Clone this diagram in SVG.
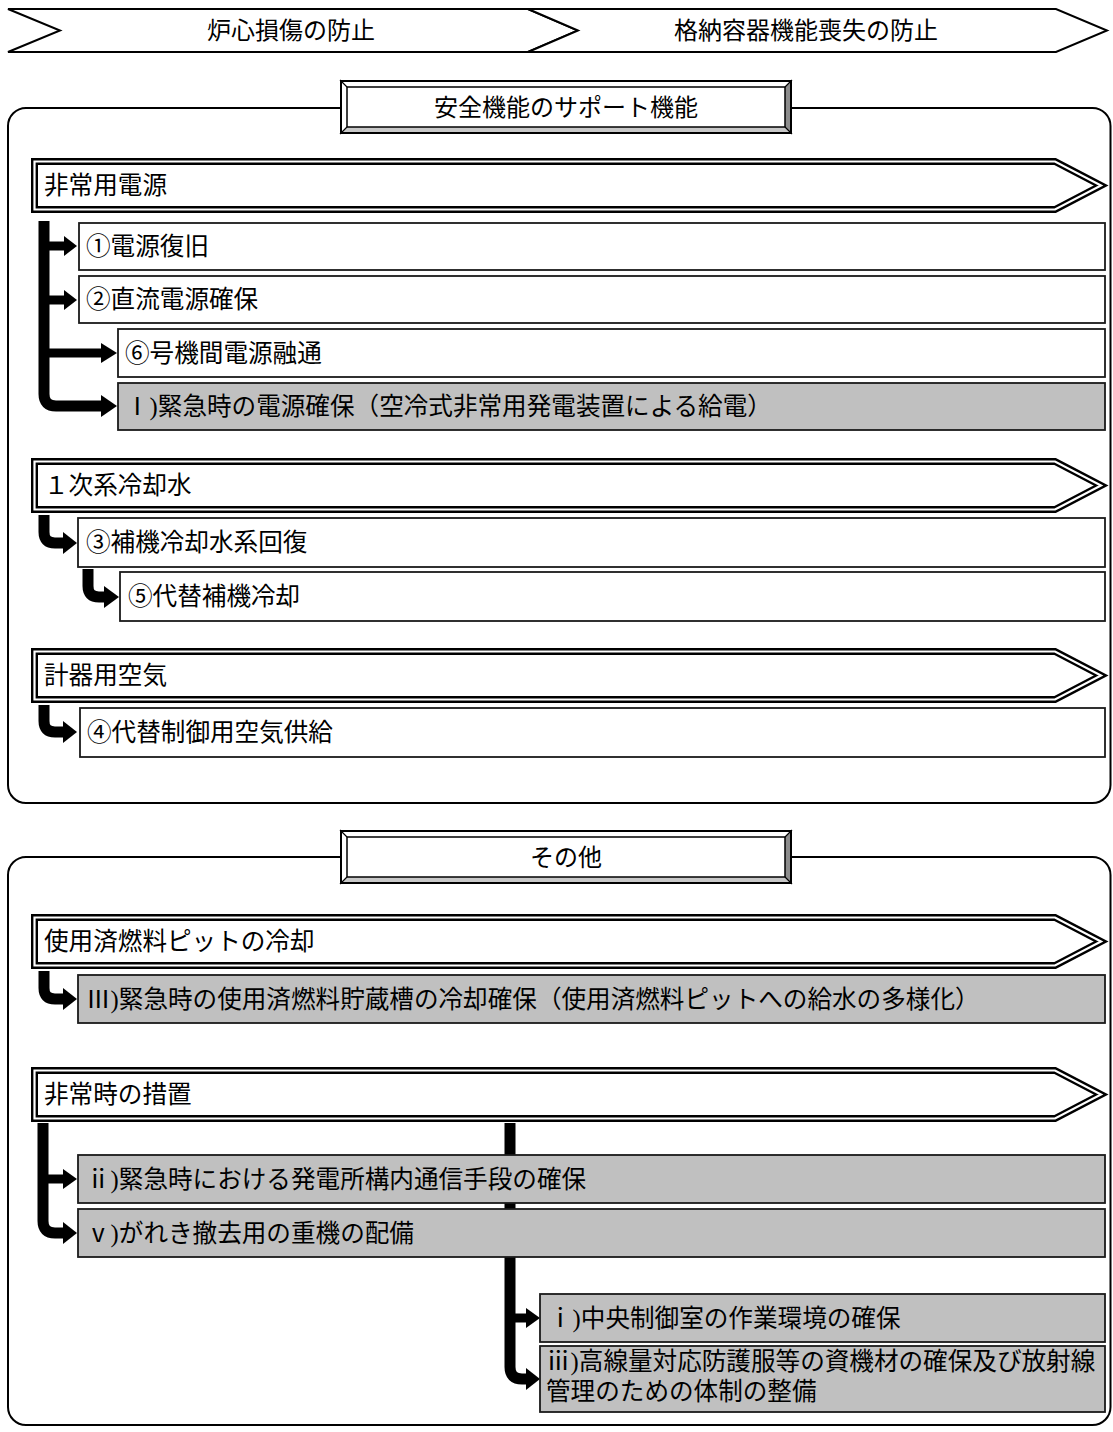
<svg xmlns="http://www.w3.org/2000/svg" xmlns:xlink="http://www.w3.org/1999/xlink" width="1113" height="1432" viewBox="0 0 1113 1432">
<style>
.t{font-family:"Liberation Serif","Noto Sans CJK JP",serif;font-size:24.6px;fill:#000}
.hd{font-family:"Liberation Serif","Noto Sans CJK JP",serif;font-size:24px;fill:#000;text-anchor:middle}
.box{fill:#fff;stroke:#1a1a1a;stroke-width:1.8}
.gbox{fill:#c0c0c0;stroke:#1a1a1a;stroke-width:1.8}
.frame{fill:none;stroke:#000;stroke-width:2}
.chev{fill:#fff;stroke:#000;stroke-width:2}
.ln{fill:none;stroke:#000;stroke-width:11}
.bl{fill:none;stroke:#000;stroke-width:9}
.hdz{fill:#000}
</style>
<defs>
<g id="bevel">
<rect x="0" y="0" width="452" height="54" fill="#fff"/>
<polygon points="452,0 452,54 445,47 445,7" fill="#8c8c8c"/>
<polygon points="0,54 452,54 445,47 7,47" fill="#c8c8c8"/>
<rect x="7" y="7" width="438" height="40" fill="#fff" stroke="#000" stroke-width="1.5"/>
<path d="M0,0 L7,7 M452,0 L445,7 M0,54 L7,47 M452,54 L445,47" stroke="#000" stroke-width="1.2"/>
<rect x="1" y="1" width="450" height="52" fill="none" stroke="#000" stroke-width="2"/>
</g>
<g id="bar">
<polygon points="34.5,3.5 1055,3.5 1101,27.5 1055,51.5 34.5,51.5" fill="#fff" stroke="#000" stroke-width="7"/>
<polygon points="34.5,3.5 1055,3.5 1101,27.5 1055,51.5 34.5,51.5" fill="none" stroke="#fff" stroke-width="2.2"/>
</g>
</defs>

<g id="header">
<g id="h1">
<polygon class="chev" points="8,9 528,9 578,30.5 528,52 8,52 60,30.5"/>
<text class="hd" x="291" y="39">炉心損傷の防止</text>
</g>
<g id="h2">
<polygon class="chev" points="528,9 1056,9 1107,30.5 1056,52 528,52 578,30.5"/>
<text class="hd" x="806" y="39">格納容器機能喪失の防止</text>
</g>
</g>

<g id="frames">
<rect class="frame" x="8" y="108" width="1102.5" height="695" rx="18" ry="18"/>
<rect class="frame" x="8" y="857" width="1102.5" height="568" rx="18" ry="18"/>
</g>

<g id="connectors">
<path class="ln" d="M44,221 V394 Q44,406 56,406 H103"/>
<polygon class="hdz" points="101,395 117,406 101,417"/>
<path class="bl" d="M44,246 H66"/>
<polygon class="hdz" points="64,236 77,246 64,256"/>
<path class="bl" d="M44,300 H66"/>
<polygon class="hdz" points="64,290 77,300 64,310"/>
<path class="bl" d="M44,353 H103"/>
<polygon class="hdz" points="101,343 117,353 101,363"/>
<path class="ln" d="M44,515 V532 Q44,543 55,543 H65"/>
<polygon class="hdz" points="63,532 77,543 63,554"/>
<path class="ln" d="M88,569 V586 Q88,597 99,597 H106"/>
<polygon class="hdz" points="104,586 119,597 104,608"/>
<path class="ln" d="M44,705 V721 Q44,732 55,732 H65"/>
<polygon class="hdz" points="63,721 77,732 63,743"/>
<path class="ln" d="M44,971 V988 Q44,999 55,999 H65"/>
<polygon class="hdz" points="63,988 77,999 63,1010"/>
<path class="ln" d="M43,1123 V1221 Q43,1233 55,1233 H65"/>
<polygon class="hdz" points="63,1222 77,1233 63,1244"/>
<path class="bl" d="M43,1179 H65"/>
<polygon class="hdz" points="63,1169 77,1179 63,1189"/>
<path class="ln" d="M510,1123 V1367 Q510,1379 522,1379 H528"/>
<polygon class="hdz" points="526,1368 540,1379 526,1390"/>
<path class="bl" d="M510,1318 H528"/>
<polygon class="hdz" points="526,1308 540,1318 526,1328"/>
</g>

<g id="title1">
<use xlink:href="#bevel" x="340" y="80"/>
<text class="hd" x="566" y="115.5">安全機能のサポート機能</text>
</g>
<g id="bar-power">
<use xlink:href="#bar" x="0" y="158"/>
<text class="t" x="44" y="194">非常用電源</text>
</g>
<g id="n1"><rect class="box" x="79" y="223" width="1026" height="47"/><text class="t" x="86" y="255">①電源復旧</text></g>
<g id="n2"><rect class="box" x="79" y="276" width="1026" height="47"/><text class="t" x="86" y="308">②直流電源確保</text></g>
<g id="n6"><rect class="box" x="118" y="329" width="987" height="48"/><text class="t" x="125" y="362">⑥号機間電源融通</text></g>
<g id="nI"><rect class="gbox" x="118" y="383" width="987" height="47"/><text class="t" x="125" y="415">Ⅰ)緊急時の電源確保（空冷式非常用発電装置による給電）</text></g>

<g id="bar-cooling">
<use xlink:href="#bar" x="0" y="458"/>
<text class="t" x="44" y="494">１次系冷却水</text>
</g>
<g id="n3"><rect class="box" x="78" y="518" width="1027" height="49"/><text class="t" x="86" y="551">③補機冷却水系回復</text></g>
<g id="n5"><rect class="box" x="120" y="572" width="985" height="49"/><text class="t" x="128" y="605">⑤代替補機冷却</text></g>

<g id="bar-air">
<use xlink:href="#bar" x="0" y="648"/>
<text class="t" x="44" y="684">計器用空気</text>
</g>
<g id="n4"><rect class="box" x="80" y="708" width="1025" height="49"/><text class="t" x="87" y="741">④代替制御用空気供給</text></g>

<g id="title2">
<use xlink:href="#bevel" x="340" y="830"/>
<text class="hd" x="566" y="865.5">その他</text>
</g>
<g id="bar-pit">
<use xlink:href="#bar" x="0" y="914"/>
<text class="t" x="44" y="950">使用済燃料ピットの冷却</text>
</g>
<g id="nIII"><rect class="gbox" x="78" y="975" width="1027" height="48"/><text class="t" x="86" y="1008">Ⅲ)緊急時の使用済燃料貯蔵槽の冷却確保（使用済燃料ピットへの給水の多様化）</text></g>

<g id="bar-emergency">
<use xlink:href="#bar" x="0" y="1067"/>
<text class="t" x="44" y="1103">非常時の措置</text>
</g>
<g id="nii"><rect class="gbox" x="78" y="1155" width="1027" height="48"/><text class="t" x="86" y="1188">ⅱ)緊急時における発電所構内通信手段の確保</text></g>
<g id="nv"><rect class="gbox" x="78" y="1209" width="1027" height="48"/><text class="t" x="86" y="1242">ⅴ)がれき撤去用の重機の配備</text></g>
<g id="ni"><rect class="gbox" x="540" y="1294" width="565" height="48"/><text class="t" x="548" y="1327">ⅰ)中央制御室の作業環境の確保</text></g>
<g id="niii"><rect class="gbox" x="540" y="1346" width="565" height="66"/><text class="t" x="546" y="1370">ⅲ)高線量対応防護服等の資機材の確保及び放射線</text><text class="t" x="546" y="1400">管理のための体制の整備</text></g>
</svg>
